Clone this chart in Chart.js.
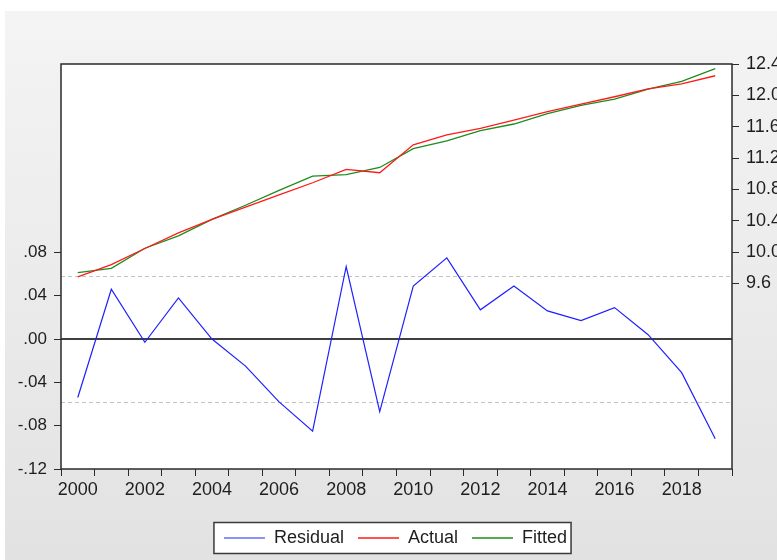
<!DOCTYPE html>
<html>
<head>
<meta charset="utf-8">
<title>Residual / Actual / Fitted</title>
<script src="https://cdn.jsdelivr.net/npm/chart.js@4.4.1/dist/chart.umd.min.js"></script>
<style>
    html, body { margin: 0; padding: 0; background: #ffffff; }
    .chart_wrapper { width: 777px; height: 560px; position: relative; }
</style>
</head>
<body>
<div class="chart_wrapper"><canvas id="chart"></canvas></div>
<script>
const years    = [ '2000', '2001', '2002', '2003', '2004', '2005', '2006', '2007', '2008', '2009',
                   '2010', '2011', '2012', '2013', '2014', '2015', '2016', '2017', '2018', '2019' ];
const residual = [ -0.054, 0.046, -0.003, 0.038, 0.000, -0.025, -0.058, -0.085, 0.067, -0.067,
                   0.049, 0.075, 0.027, 0.049, 0.026, 0.017, 0.029, 0.004, -0.031, -0.092 ];
const actual   = [ 9.683, 9.838, 10.045, 10.245, 10.416, 10.572, 10.728, 10.884, 11.055, 11.012,
                   11.368, 11.495, 11.578, 11.683, 11.791, 11.889, 11.982, 12.082, 12.146, 12.250 ];
const fitted   = [ 9.737, 9.792, 10.048, 10.207, 10.416, 10.597, 10.786, 10.969, 10.988, 11.079,
                   11.319, 11.420, 11.551, 11.634, 11.765, 11.872, 11.953, 12.078, 12.177, 12.342 ];
const leftTicks  = [ -0.12, -0.08, -0.04, 0, 0.04, 0.08 ];
const rightTicks = [ 9.6, 10.0, 10.4, 10.8, 11.2, 11.6, 12.0, 12.4 ];
const residualSE = 0.058;

const textColor = '#1e1e1e';
const axisColor = '#2a2a2a';

Chart.defaults.font.family = 'Arial, "Liberation Sans", sans-serif';
Chart.defaults.color = textColor;

function fmtLeft( v ) {
    if ( Math.abs( v ) < 1e-9 ) return '.00';
    return ( v < 0 ? '-' : '' ) + Math.abs( v ).toFixed( 2 ).slice( 1 );
}

// backgrounds, plot frame, legend box
const framePlugin = {
    id: 'frame',
    beforeDraw: function ( chart ) {
        const ctx  = chart.ctx;
        const area = chart.chartArea;
        ctx.save();
        ctx.fillStyle = '#ffffff';
        ctx.fillRect( 0, 0, chart.width, chart.height );
        const grad = ctx.createLinearGradient( 0, 11, 0, chart.height );
        grad.addColorStop( 0, '#f4f4f4' );
        grad.addColorStop( 1, '#e2e2e2' );
        ctx.fillStyle = grad;
        ctx.fillRect( 5, 11, chart.width - 5, chart.height - 11 );
        ctx.fillStyle = '#ffffff';
        ctx.fillRect( area.left, area.top, area.right - area.left, area.bottom - area.top );

        const boxes = chart.legend.legendHitBoxes;
        if ( boxes && boxes.length ) {
            const first = boxes[0];
            const last  = boxes[ boxes.length - 1 ];
            const mid   = first.top + first.height / 2;
            const l = first.left - 10;
            const r = last.left + last.width + 4;
            ctx.fillStyle = '#ffffff';
            ctx.fillRect( l, mid - 15.5, r - l, 31 );
            ctx.strokeStyle = '#3a3a3a';
            ctx.lineWidth = 1.5;
            ctx.strokeRect( l, mid - 15.5, r - l, 31 );
        }
        ctx.restore();
    },
    beforeDatasetsDraw: function ( chart ) {
        const ctx  = chart.ctx;
        const area = chart.chartArea;
        const y    = chart.scales.y;
        ctx.save();
        ctx.strokeStyle = '#c4c4c4';
        ctx.lineWidth = 1;
        ctx.setLineDash( [ 4, 3 ] );
        [ residualSE, -residualSE ].forEach( function ( v ) {
            const py = Math.round( y.getPixelForValue( v ) ) + 0.5;
            ctx.beginPath();
            ctx.moveTo( area.left, py );
            ctx.lineTo( area.right, py );
            ctx.stroke();
        } );
        ctx.setLineDash( [] );
        ctx.strokeStyle = '#404040';
        ctx.lineWidth = 2;
        const zy = Math.round( y.getPixelForValue( 0 ) );
        ctx.beginPath();
        ctx.moveTo( area.left, zy );
        ctx.lineTo( area.right, zy );
        ctx.stroke();
        ctx.restore();
    },
    afterDraw: function ( chart ) {
        const ctx  = chart.ctx;
        const area = chart.chartArea;
        ctx.save();
        ctx.strokeStyle = axisColor;
        ctx.lineWidth = 1.5;
        ctx.strokeRect( area.left, area.top, area.right - area.left, area.bottom - area.top );
        ctx.restore();
    }
};

const tickGrid = {
    drawOnChartArea: false,
    drawTicks: true,
    tickLength: 7,
    color: axisColor,
    lineWidth: 1
};

new Chart( document.getElementById( 'chart' ).getContext( '2d' ), {
    type: 'line',
    data: {
        labels: years,
        datasets: [
            {
                label: 'Residual',
                data: residual,
                yAxisID: 'y',
                borderColor: '#1f1fff',
                backgroundColor: '#1f1fff',
                borderWidth: 1.2,
                pointRadius: 0,
                tension: 0
            },
            {
                label: 'Actual',
                data: actual,
                yAxisID: 'y2',
                borderColor: '#ff1a1a',
                backgroundColor: '#ff1a1a',
                borderWidth: 1.3,
                pointRadius: 0,
                tension: 0
            },
            {
                label: 'Fitted',
                data: fitted,
                yAxisID: 'y2',
                borderColor: '#1e8c1e',
                backgroundColor: '#1e8c1e',
                borderWidth: 1.3,
                pointRadius: 0,
                tension: 0
            }
        ]
    },
    options: {
        responsive: true,
        maintainAspectRatio: false,
        animation: false,
        layout: {
            padding: { top: 64, left: 14, right: 0, bottom: 3 }
        },
        scales: {
            x: {
                type: 'category',
                offset: true,
                grid: Object.assign( {}, tickGrid, { offset: true } ),
                border: { display: false },
                ticks: {
                    autoSkip: false,
                    maxRotation: 0,
                    padding: 3,
                    font: { size: 18 },
                    color: textColor,
                    callback: function ( value, index ) {
                        return index % 2 === 0 ? this.getLabelForValue( value ) : '';
                    }
                },
                afterFit: function ( scale ) { scale.height = 46; }
            },
            y: {
                position: 'left',
                min: -0.12,
                max: 0.254,
                grid: tickGrid,
                border: { display: false },
                ticks: {
                    padding: 7,
                    font: { size: 17 },
                    color: textColor,
                    callback: function ( v ) { return fmtLeft( v ); }
                },
                afterBuildTicks: function ( scale ) {
                    scale.ticks = leftTicks.map( function ( v ) { return { value: v }; } );
                },
                afterFit: function ( scale ) { scale.width = 47; }
            },
            y2: {
                position: 'right',
                min: 7.23,
                max: 12.4,
                grid: tickGrid,
                border: { display: false },
                ticks: {
                    padding: 7,
                    font: { size: 18 },
                    color: textColor,
                    callback: function ( v ) { return v.toFixed( 1 ); }
                },
                afterBuildTicks: function ( scale ) {
                    scale.ticks = rightTicks.map( function ( v ) { return { value: v }; } );
                },
                afterFit: function ( scale ) { scale.width = 45; }
            }
        },
        plugins: {
            legend: {
                position: 'bottom',
                labels: {
                    usePointStyle: true,
                    pointStyle: 'line',
                    pointStyleWidth: 41,
                    padding: 14,
                    color: textColor,
                    font: { size: 18 }
                }
            },
            tooltip: { enabled: false }
        }
    },
    plugins: [ framePlugin ]
} );
</script>
</body>
</html>
